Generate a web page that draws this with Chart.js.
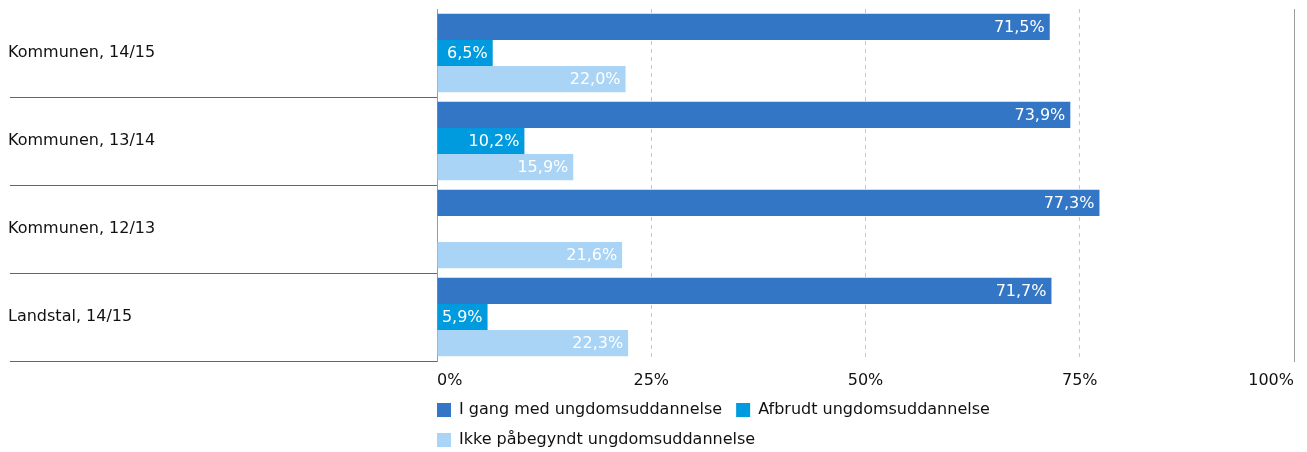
<!DOCTYPE html>
<html lang="da">
  <head>
    <meta charset="UTF-8" />
    <title>Ungdomsuddannelse</title>
    <style>
      html, body { margin: 0; padding: 0; background: #fff; }
      #wrap { width: 1307px; height: 452px; }
    </style>
  </head>
  <body>
    <div id="wrap"><canvas id="chart" width="1307" height="452"></canvas></div>
    <script src="https://cdn.jsdelivr.net/npm/chart.js"></script>
    <script>
      // kategorier og værdier (procent)
      const categories = ["Kommunen, 14/15", "Kommunen, 13/14", "Kommunen, 12/13", "Landstal, 14/15"];
      const seriesNames = ["I gang med ungdomsuddannelse", "Afbrudt ungdomsuddannelse", "Ikke påbegyndt ungdomsuddannelse"];
      const iGang = [71.5, 73.9, 77.3, 71.7];
      const afbrudt = [6.5, 10.2, null, 5.9];
      const ikkePaabegyndt = [22.0, 15.9, 21.6, 22.3];
      const xTicks = [0, 25, 50, 75, 100];
      const colors = ["#3276c5", "#009bdf", "#a9d4f5"];

      const FONT = "'DejaVu Sans', Verdana, sans-serif";

      // tekst med værdien inde i enden af søjlen
      const valueLabels = {
        id: "valueLabels",
        afterDatasetsDraw(chart) {
          const ctx = chart.ctx;
          ctx.save();
          ctx.font = "16px " + FONT;
          ctx.fillStyle = "#fff";
          ctx.textAlign = "right";
          ctx.textBaseline = "middle";
          chart.data.datasets.forEach((ds, i) => {
            chart.getDatasetMeta(i).data.forEach((bar, j) => {
              const v = ds.data[j];
              if (v == null) return;
              ctx.fillText(v.toFixed(1).replace(".", ",") + "%", bar.x - 5, bar.y + 1);
            });
          });
          ctx.restore();
        },
      };

      // flyt legenden ind så den starter ved 0-linjen
      const legendShift = {
        id: "legendShift",
        afterLayout(chart) {
          const lg = chart.legend;
          const p = lg.options.labels.padding;
          lg.left -= p;
          lg.right -= p;
        },
      };

      const makeSet = (label, data, color) => ({
        label: label,
        data: data,
        backgroundColor: color,
        borderWidth: 0,
        categoryPercentage: 0.89,
        barPercentage: 1.0,
      });

      new Chart(document.getElementById("chart"), {
        type: "bar",
        data: {
          labels: categories,
          datasets: [
            makeSet(seriesNames[0], iGang, colors[0]),
            makeSet(seriesNames[1], afbrudt, colors[1]),
            makeSet(seriesNames[2], ikkePaabegyndt, colors[2]),
          ],
        },
        plugins: [valueLabels, legendShift],
        options: {
          indexAxis: "y",
          responsive: false,
          animation: false,
          layout: { padding: { left: 8, right: 13, top: 9, bottom: -6 } },
          scales: {
            x: {
              min: 0,
              max: 100,
              afterBuildTicks: (scale) => {
                scale.ticks = xTicks.map((v) => ({ value: v }));
              },
              afterFit: (scale) => {
                scale.height = 27;
              },
              border: { display: false, dash: [4, 4] },
              grid: {
                drawTicks: false,
                color: (c) => (c.tick && c.tick.value > 0 && c.tick.value < 100 ? "#c8c8c8" : "transparent"),
              },
              ticks: {
                align: "inner",
                padding: 10,
                color: "#111",
                font: { family: FONT, size: 16 },
                callback: (v) => v + "%",
              },
            },
            y: {
              afterFit: (scale) => {
                scale.width = 429;
                scale.paddingTop = 0;
                scale.paddingBottom = 0;
              },
              border: { display: true, color: "#9a9a9a", width: 1 },
              grid: {
                offset: true,
                drawOnChartArea: false,
                drawTicks: true,
                tickLength: 427,
                color: (c) => (c.index === 0 ? "transparent" : "#666"),
                tickColor: (c) => (c.index === 0 ? "transparent" : "#666"),
              },
              ticks: {
                crossAlign: "far",
                color: "#111",
                font: { family: FONT, size: 16 },
              },
            },
            y2: {
              type: "category",
              axis: "y",
              position: "right",
              afterFit: (scale) => {
                scale.width = 0;
                scale.paddingTop = 0;
                scale.paddingBottom = 0;
              },
              border: { display: true, color: "#9a9a9a", width: 1 },
              grid: { display: false },
              ticks: { display: false },
            },
          },
          plugins: {
            tooltip: { enabled: false },
            legend: {
              position: "bottom",
              align: "start",
              fullSize: false,
              labels: {
                boxWidth: 14,
                boxHeight: 14,
                padding: 14,
                color: "#111",
                font: { family: FONT, size: 16 },
              },
            },
          },
        },
      });
    </script>
  </body>
</html>
